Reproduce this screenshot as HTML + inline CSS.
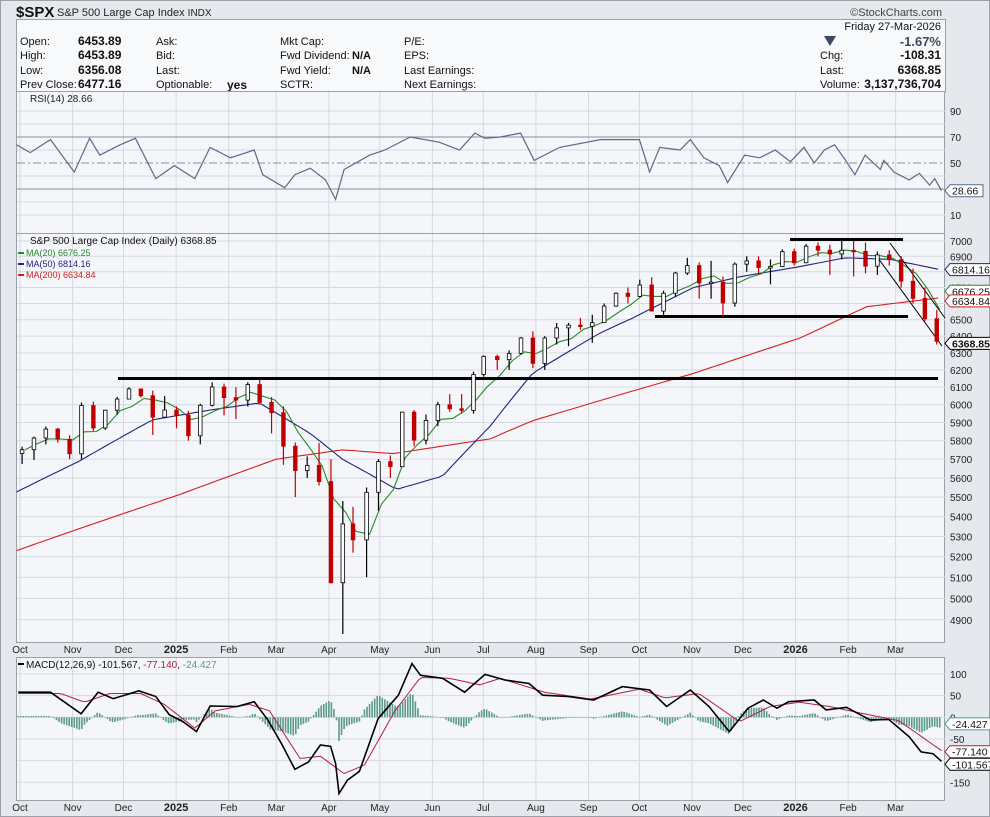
<!DOCTYPE html>
<html><head><meta charset="utf-8">
<style>
body{margin:0;background:#e5e8ed;font-family:"Liberation Sans",sans-serif;}
svg{display:block}
text{font-family:"Liberation Sans",sans-serif;}
</style></head>
<body>
<svg id="c" width="990" height="817" viewBox="0 0 990 817" xmlns="http://www.w3.org/2000/svg">
<rect x="0" y="0" width="990" height="817" fill="#e5e8ed"/>
<rect x="0.5" y="0.5" width="989" height="816" fill="none" stroke="#9aa0a8"/>
<text x="16" y="17" font-size="15" font-weight="bold" fill="#111">$SPX</text>
<text x="57" y="16" font-size="11" fill="#222">S&amp;P 500 Large Cap Index <tspan font-size="10">INDX</tspan></text>
<text x="942" y="16" font-size="11" fill="#444" text-anchor="end">©StockCharts.com</text>
<g id="hdr">
<rect x="16.5" y="19.5" width="929" height="72" fill="#f8f9fb" stroke="#9aa0a8"/>
</g>
<g id="rsi"></g>
<g id="price"></g>
<g id="macd"></g>
</svg>
<script>
const NS="http://www.w3.org/2000/svg";
// ---------- DATA ----------
const weekDates=["2024-10-04","2024-10-11","2024-10-18","2024-10-25","2024-11-01","2024-11-08","2024-11-15","2024-11-22","2024-11-29","2024-12-06","2024-12-13","2024-12-20","2024-12-27",
"2025-01-03","2025-01-10","2025-01-17","2025-01-24","2025-01-31","2025-02-07","2025-02-14","2025-02-21","2025-02-28","2025-03-07","2025-03-14","2025-03-21","2025-03-28","2025-04-04","2025-04-11","2025-04-17","2025-04-25","2025-05-02","2025-05-09","2025-05-16","2025-05-23","2025-05-30","2025-06-06","2025-06-13","2025-06-20","2025-06-27","2025-07-03","2025-07-11","2025-07-18","2025-07-25","2025-08-01","2025-08-08","2025-08-15","2025-08-22","2025-08-29","2025-09-05","2025-09-12","2025-09-19","2025-09-26","2025-10-03","2025-10-10","2025-10-17","2025-10-24","2025-10-31","2025-11-07","2025-11-14","2025-11-21","2025-11-28","2025-12-05","2025-12-12","2025-12-19","2025-12-26",
"2026-01-02","2026-01-09","2026-01-16","2026-01-23","2026-01-30","2026-02-06","2026-02-13","2026-02-20","2026-02-27","2026-03-06","2026-03-13","2026-03-20","2026-03-27"];
const closes=[5751,5815,5864,5808,5729,5995,5870,5969,6032,6090,6051,5930,5970,
5942,5827,5997,6101,6040,6026,6115,6013,5955,5770,5639,5667,5581,5074,5363,5283,5525,5687,5660,5958,5803,5912,6000,5977,5968,6173,6279,6260,6297,6389,6238,6389,6450,6467,6460,6482,6584,6664,6644,6716,6553,6664,6792,6840,6729,6734,6603,6849,6870,6827,6834,6930,
6858,6966,6940,6915,6939,6932,6836,6909,6878,6740,6632,6506,6369];
const highs=[5767,5822,5878,5870,5830,6012,6017,5972,6044,6099,6085,6080,6050,
5990,5965,6005,6128,6120,6100,6128,6147,6043,5990,5790,5715,5787,5700,5480,5450,5550,5700,5720,5960,5970,5945,6016,6060,6060,6190,6285,6290,6315,6395,6430,6400,6480,6480,6510,6530,6600,6670,6700,6750,6765,6680,6800,6890,6860,6870,6770,6860,6900,6900,6880,6945,
6950,6980,6990,6975,7000,7002,6990,6930,6940,6900,6820,6700,6560];
const lows=[5674,5696,5780,5790,5700,5700,5853,5860,5944,6032,6040,5832,5930,
5868,5800,5780,5990,5940,5920,5990,6010,5840,5670,5500,5600,5560,5070,4835,5220,5100,5430,5600,5760,5770,5780,5880,5960,5950,5950,6160,6200,6200,6290,6210,6200,6350,6340,6440,6360,6480,6580,6600,6640,6550,6520,6640,6780,6630,6630,6520,6580,6800,6790,6720,6830,
6840,6860,6900,6780,6880,6770,6790,6780,6840,6700,6600,6490,6350];
const ma50Day=[-2,34,78,112,141,171,190,222,249,277,302,342,361,397,425,458,486,513,542];
const ma50Val=[5527,5685,5915,5970,6010,5840,5700,5540,5610,5880,6180,6420,6510,6700,6770,6830,6890,6880,6814];
const ma200Day=[-2,93,151,190,220,277,302,397,460,499,542];
const ma200Val=[5230,5510,5700,5750,5730,5810,5910,6180,6390,6580,6635];
const rsiDay=[-2,6,18,32,41,47,59,68,80,91,103,112,124,138,143,156,162,171,180,186,191,206,215,230,247,259,268,274,283,295,303,318,342,365,371,377,389,395,403,412,417,427,436,445,454,462,468,474,480,486,492,498,507,509,515,524,530,536,539,543];
const rsiVal=[64,58,68,43,69,56,64,69,38,48,38,62,54,60,41,31,41,46,37,22,45,56,60,70,66,60,73,69,70,73,52,62,68,68,43,62,60,68,54,48,35,56,54,60,51,62,50,60,64,53,41,56,45,52,43,37,42,33,38,28.66];
const macdDay=[-1,18,36,46,55,70,80,88,96,104,112,128,138,146,154,162,170,177,183,186,188,193,200,211,223,231,236,249,262,274,286,300,308,323,338,355,371,381,395,406,418,429,438,446,453,468,475,487,501,512,524,531,538,543];
const macdVal=[58,58,8,58,43,61,48,6,-10,-33,26,25,36,-6,-60,-120,-103,-64,-67,-107,-176,-145,-125,-3,51,124,97,90,58,99,86,78,51,48,40,71,63,25,63,25,-33,21,40,21,36,40,17,23,-6,-5,-45,-80,-84,-101.567];
const sigDay=[-1,24,38,53,71,85,103,115,135,147,165,177,191,203,221,236,253,271,283,309,336,365,380,400,424,442,459,477,495,518,543];
const sigVal=[55,55,35,55,55,30,-25,15,30,15,-95,-90,-130,-110,15,92,90,75,90,58,42,65,45,55,-10,25,35,25,10,-8,-77.14];
const monthLabels=["Oct","Nov","Dec","2025","Feb","Mar","Apr","May","Jun","Jul","Aug","Sep","Oct","Nov","Dec","2026","Feb","Mar"];
const monthDates=["2024-10-01","2024-11-01","2024-12-01","2025-01-01","2025-02-01","2025-03-01","2025-04-01","2025-05-01","2025-06-01","2025-07-01","2025-08-01","2025-09-01","2025-10-01","2025-11-01","2025-12-01","2026-01-01","2026-02-01","2026-03-01"];
const priceTicks=[7000,6900,6800,6700,6600,6500,6400,6300,6200,6100,6000,5900,5800,5700,5600,5500,5400,5300,5200,5100,5000,4900];
const rsiTicks=[90,70,50,30,10];
const macdTicks=[100,50,0,-50,-100,-150];
// ---------- SCALES ----------
const X0=16,X1=945;
const base=Date.UTC(2024,9,1);
function dayOf(s){const p=s.split("-");return (Date.UTC(+p[0],+p[1]-1,+p[2])-base)/86400000;}
function xDay(d){return 20+d*1.697;}
function xDate(s){return xDay(dayOf(s));}
function yP(p){return 241+1062*Math.log(7000/p);}
function yR(v){return 163-(v-50)*1.3;}
function yM(v){return 717.3-v*0.433;}
function interp(ds,vs,d){if(d<=ds[0])return vs[0];for(let i=1;i<ds.length;i++){if(d<=ds[i]){const t=(d-ds[i-1])/(ds[i]-ds[i-1]);return vs[i-1]+t*(vs[i]-vs[i-1]);}}return vs[vs.length-1];}
function el(tag,attrs,parent,txt){const e=document.createElementNS(NS,tag);for(const k in attrs)e.setAttribute(k,attrs[k]);if(txt!==undefined)e.textContent=txt;parent.appendChild(e);return e;}
const svg=document.getElementById("c");
// ---------- HEADER ----------
const hdr=document.getElementById("hdr");
const rows=[41,55,70,84];
const hl=[["Open:","6453.89"],["High:","6453.89"],["Low:","6356.08"],["Prev Close:","6477.16"]];
hl.forEach((r,i)=>{let t=el("text",{x:20,y:rows[i]+4,"font-size":11,fill:"#111"},hdr,r[0]);
t=el("text",{x:78,y:rows[i]+4,"font-size":12,"font-weight":"bold",fill:"#111"},hdr,r[1]);});
const c2=[["Ask:",""],["Bid:",""],["Last:",""],["Optionable:","yes"]];
c2.forEach((r,i)=>{let t=el("text",{x:156,y:rows[i]+4,"font-size":11,fill:"#111"},hdr,r[0]);
if(r[1]){t=el("text",{x:227,y:rows[i]+5,"font-size":12,"font-weight":"bold",fill:"#111"},hdr,r[1]);}});
const c3=[["Mkt Cap:",""],["Fwd Dividend:","N/A"],["Fwd Yield:","N/A"],["SCTR:",""]];
c3.forEach((r,i)=>{let t=el("text",{x:280,y:rows[i]+4,"font-size":11,fill:"#111"},hdr,r[0]);
if(r[1]){t=el("text",{x:352,y:rows[i]+4,"font-size":11,"font-weight":"bold",fill:"#111"},hdr,r[1]);}});
["P/E:","EPS:","Last Earnings:","Next Earnings:"].forEach((s,i)=>{const t=el("text",{x:404,y:rows[i]+4,"font-size":11,fill:"#111"},hdr,s);});
let t0=el("text",{x:941,y:30,"font-size":11,fill:"#111","text-anchor":"end"},hdr,"Friday  27-Mar-2026");
t0=el("path",{d:"M824 36 L836 36 L830 46 Z",fill:"#3b4a5e"},hdr);
t0=el("text",{x:941,y:46,"font-size":13,"font-weight":"bold",fill:"#3b4a5e","text-anchor":"end"},hdr,"-1.67%");
[["Chg:","-108.31",59],["Last:","6368.85",74],["Volume:","3,137,736,704",88]].forEach(r=>{let t=el("text",{x:820,y:r[2],"font-size":11,fill:"#111"},hdr,r[0]);
t=el("text",{x:941,y:r[2],"font-size":12,"font-weight":"bold",fill:"#111","text-anchor":"end"},hdr,r[1]);});
// ---------- helpers ----------
function panel(g,y0,y1,name){const r=el("rect",{x:X0+0.5,y:y0+0.5,width:X1-X0-1,height:y1-y0,fill:"#f4f6fa",stroke:"#9aa0a8"},g);
monthDates.forEach(d=>{const x=xDate(d);const l=el("line",{x1:x,x2:x,y1:y0+1,y2:y1,stroke:"#d5d9e0"},g);});}
function tag(g,x,y,txt,color,bold,name){const w=txt.length*5.6+5;const p=el("path",{d:`M${x} ${y} L${x+5} ${y-6} L${x+5+w} ${y-6} L${x+5+w} ${y+6} L${x+5} ${y+6} Z`,fill:"#fff",stroke:color},g);
const t=el("text",{x:x+7,y:y+4,"font-size":10.5,"font-weight":bold?"bold":"normal",fill:"#111"},g,txt);}
function poly(g,pts,color,w,name){const l=el("polyline",{points:pts.map(p=>p[0].toFixed(1)+","+p[1].toFixed(1)).join(" "),fill:"none",stroke:color,"stroke-width":w},g);return l;}
function dense(ds,vs,yf,step){const pts=[];for(let d=ds[0];d<=ds[ds.length-1]+0.01;d+=step){pts.push([xDay(d),yf(interp(ds,vs,d))]);}return pts;}
// ---------- RSI ----------
const rg=document.getElementById("rsi");
panel(rg,91,233,"rsi-plot-area");
[90,80,60,40,20,10].forEach(v=>{const l=el("line",{x1:X0+1,x2:X1,y1:yR(v),y2:yR(v),stroke:"#d5d9e0"},rg);});
[70,30].forEach(v=>{const l=el("line",{x1:X0+1,x2:X1,y1:yR(v),y2:yR(v),stroke:"#8a8f98"},rg);});
let l50=el("line",{x1:X0+1,x2:X1,y1:yR(50),y2:yR(50),stroke:"#8a8f98","stroke-dasharray":"8,3,2,3"},rg);
poly(rg,rsiDay.map((d,i)=>[xDay(d),yR(rsiVal[i])]),"#5a6a88",1.2,"rsi-line");
rsiTicks.forEach(v=>{const t=el("text",{x:950,y:yR(v)+4,"font-size":10,fill:"#222"},rg,String(v));});
tag(rg,945,yR(rsiVal[rsiVal.length-1]),"28.66","#5a6a88",false,"rsi-current-label");
let rl=el("text",{x:30,y:102,"font-size":10,fill:"#222","font-family":"DejaVu Sans Mono, monospace"},rg,"RSI(14) 28.66");
// ---------- PRICE ----------
const pg=document.getElementById("price");
panel(pg,233,642,"price-plot-area");
priceTicks.forEach(v=>{const y=yP(v);const l=el("line",{x1:X0+1,x2:X1,y1:y,y2:y,stroke:"#d5d9e0"},pg);
const t=el("text",{x:950,y:y+4,"font-size":10,fill:"#222"},pg,String(v));});
poly(pg,dense(ma200Day,ma200Val,yP,3),"#d62020",1.1,"ma200-line");
poly(pg,dense(ma50Day,ma50Val,yP,3),"#23237a",1.1,"ma50-line");
const ma20=closes.map((c,i)=>{const s=closes.slice(Math.max(0,i-3),i+1);return s.reduce((a,b)=>a+b,0)/s.length;});
poly(pg,weekDates.map((d,i)=>[xDate(d),yP(ma20[i])]),"#2a8a2a",1.1,"ma20-line");
[[118,938,6150],[655,908,6520],[790,903,7010]].forEach((s,i)=>{const l=el("line",{x1:s[0],x2:s[1],y1:yP(s[2]),y2:yP(s[2]),stroke:"#000","stroke-width":3},pg);});
let ch=el("line",{x1:890,y1:243,x2:945,y2:318,stroke:"#000","stroke-width":1},pg);
ch=el("line",{x1:878,y1:258,x2:942,y2:346,stroke:"#000","stroke-width":1},pg);
weekDates.forEach((d,i)=>{const x=xDate(d)-3;const o=i?closes[i-1]:closes[0]-20;const c=closes[i];const down=c<o;const col=down?"#c00000":"#000";
const w=el("line",{x1:x,x2:x,y1:yP(highs[i]),y2:yP(lows[i]),stroke:col,"stroke-width":1.2},pg);
const yt=Math.min(yP(o),yP(c)),h=Math.max(1.5,Math.abs(yP(o)-yP(c)));
const b=el("rect",{x:x-1.8,y:yt,width:3.6,height:h,fill:down?"#c00000":"#fff",stroke:col,"stroke-width":0.8},pg);});
const leg=[["S&P 500 Large Cap Index (Daily) 6368.85","#111",244,10],["MA(20) 6676.25","#2a8a2a",256,9],["MA(50) 6814.16","#23237a",267,9],["MA(200) 6634.84","#d62020",278,9]];
leg.forEach((r,i)=>{const t=el("text",{x:i?26:30,y:r[2],"font-size":r[3],fill:r[1],"font-family":i?"Liberation Sans, sans-serif":"DejaVu Sans Mono, monospace"},pg,r[0]);
if(i){const m=el("line",{x1:18,x2:24,y1:r[2]-3,y2:r[2]-3,stroke:r[1],"stroke-width":2},pg);}});
tag(pg,945,yP(6814.16),"6814.16","#23237a",false,"ma50-label");
tag(pg,945,yP(6676.25),"6676.25","#2a8a2a",false,"ma20-label");
tag(pg,945,yP(6634.84)+3,"6634.84","#d62020",false,"ma200-label");
tag(pg,945,yP(6368.85)+2,"6368.85","#000",true,"last-price-label");
[649,807].forEach((y,k)=>{monthDates.forEach((d,i)=>{const lab=monthLabels[i];const t=el("text",{x:xDate(d),y:y+4,"font-size":lab.length==4?11:10,"font-weight":lab.length==4?"bold":"normal",fill:"#222","text-anchor":"middle"},svg,lab);});});
// ---------- MACD ----------
const mg=document.getElementById("macd");
panel(mg,657,800,"macd-plot-area");
macdTicks.forEach(v=>{const y=yM(v);const l=el("line",{x1:X0+1,x2:X1,y1:y,y2:y,stroke:"#d5d9e0"},mg);
if(v!==-100){const t=el("text",{x:950,y:y+4,"font-size":10,fill:"#222"},mg,String(v));}});
for(let d=macdDay[0];d<=543;d+=1.5){const h=interp(macdDay,macdVal,d)-interp(sigDay,sigVal,d);const x=xDay(d);const y0=yM(0),y1=yM(h);
const b=el("rect",{x:x-0.8,y:Math.min(y0,y1),width:1.6,height:Math.max(0.5,Math.abs(y1-y0)),fill:"#5c9a8a"},mg);}
poly(mg,dense(sigDay,sigVal,yM,2),"#b0203a",1,"macd-signal-line");
poly(mg,macdDay.map((d,i)=>[xDay(d),yM(macdVal[i])]),"#000",1.6,"macd-line");
let ml=el("text",{x:26,y:668,"font-size":10,fill:"#111"},mg,"MACD(12,26,9) -101.567, ");
el("tspan",{fill:"#b0203a"},ml,"-77.140");el("tspan",{fill:"#111"},ml,", ");el("tspan",{fill:"#5c9a8a"},ml,"-24.427");
let sw=el("line",{x1:18,x2:24,y1:664,y2:664,stroke:"#000","stroke-width":2},mg);
tag(mg,945,yM(-24.427)-4,"-24.427","#5c9a8a",false,"hist-label");
tag(mg,945,yM(-77.14)+1,"-77.140","#b0203a",false,"signal-label");
tag(mg,945,yM(-101.567)+3,"-101.567","#000",false,"macd-label");
</script>
</body></html>
